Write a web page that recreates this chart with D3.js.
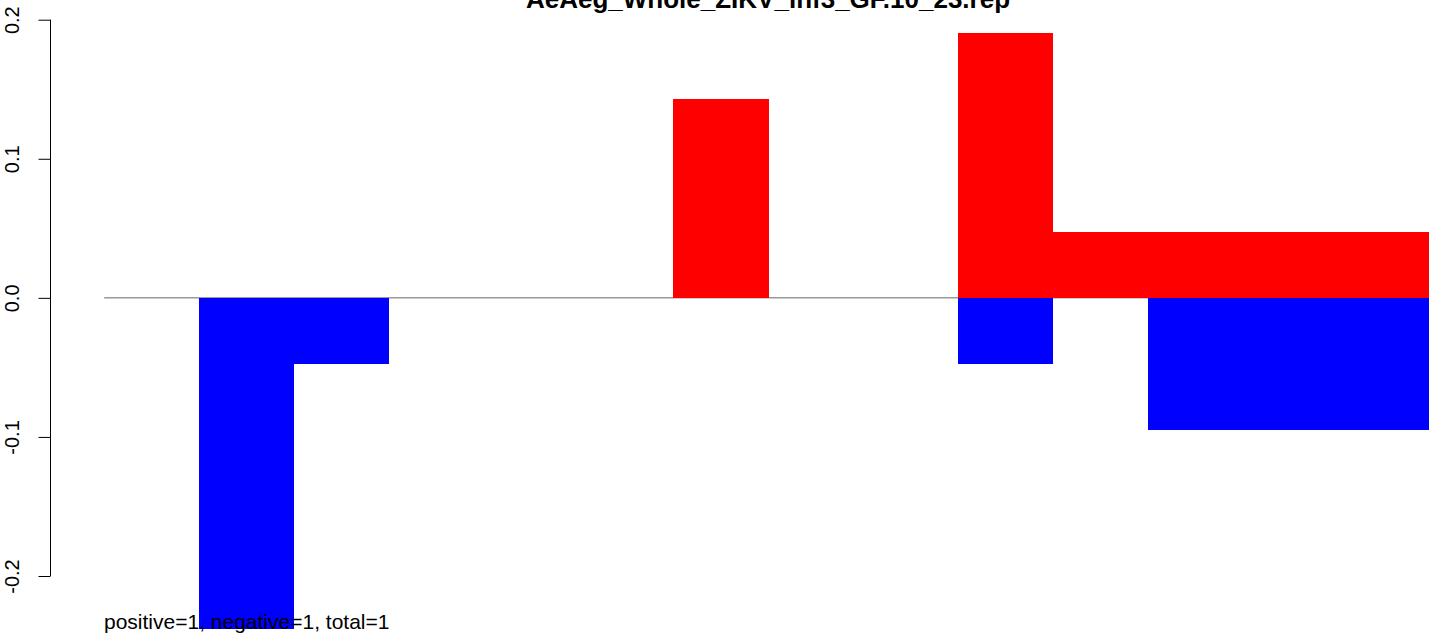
<!DOCTYPE html>
<html>
<head>
<meta charset="utf-8">
<script src="https://cdn.jsdelivr.net/npm/d3@7"></script>
<style>
  html, body { margin: 0; padding: 0; background: #fff; overflow: hidden; }
  svg { display: block; }
</style>
</head>
<body>
<svg id="chart" width="1429" height="636"></svg>
<script>
// ---- data ----
const titleText = "AeAeg_Whole_ZIKV_inf3_GF.10_23.rep";
const categories = [0, 1, 2, 3, 4, 5, 6, 7, 8, 9, 10, 11, 12, 13];
const positiveValues = [0, 0, 0, 0, 0, 0, 0.1429, 0, 0, 0.1905, 0.0476, 0.0476, 0.0476, 0.0476];
const negativeValues = [0, -0.2381, -0.0476, 0, 0, 0, 0, 0, 0, -0.0476, 0, -0.0952, -0.0952, -0.0952];
const yTicks = [-0.2, -0.1, 0.0, 0.1, 0.2];
const yTickLabels = ["-0.2", "-0.1", "0.0", "0.1", "0.2"];
const footnote = "positive=1, negative=1, total=1";

// ---- layout ----
const W = 1429, H = 636;
const FONT = "'Liberation Sans', Arial, Helvetica, sans-serif";
const svg = d3.select("#chart");
const slotW = 94.85, xStart = 104.2;

const x = d3.scaleBand()
  .domain(categories)
  .range([xStart, xStart + categories.length * slotW])
  .padding(0);

const y = d3.scaleLinear().domain([-0.2, 0.2]).range([576, 19.7]);

// zero line
svg.append("line")
  .attr("x1", xStart).attr("x2", W)
  .attr("y1", y(0)).attr("y2", y(0))
  .attr("stroke", "#666").attr("stroke-width", 1);

// bars
const plot = svg.append("g").attr("shape-rendering", "crispEdges");
plot.selectAll("rect.pos")
  .data(categories.filter(i => positiveValues[i] !== 0))
  .join("rect")
  .attr("class", "pos")
  .attr("x", i => x(i))
  .attr("width", x.bandwidth() + 0.5)
  .attr("y", i => y(positiveValues[i]))
  .attr("height", i => y(0) - y(positiveValues[i]))
  .attr("fill", "#ff0000");

plot.selectAll("rect.neg")
  .data(categories.filter(i => negativeValues[i] !== 0))
  .join("rect")
  .attr("class", "neg")
  .attr("x", i => x(i))
  .attr("width", x.bandwidth() + 0.5)
  .attr("y", y(0))
  .attr("height", i => y(negativeValues[i]) - y(0))
  .attr("fill", "#0000ff");

// y axis (R style)
const yAxis = d3.axisLeft(y)
  .tickValues(yTicks)
  .tickFormat((d, i) => yTickLabels[i])
  .tickSize(12)
  .tickPadding(0);

const ax = svg.append("g")
  .attr("transform", "translate(50,0)")
  .call(yAxis);
ax.select(".domain")
  .attr("d", `M0.5,${y(-0.2)}V${y(0.2)}`)
  .attr("stroke", "#000");
ax.selectAll(".tick line").attr("stroke", "#000").attr("transform", "translate(0.5,0)");
ax.selectAll(".tick text")
  .attr("font-family", FONT)
  .attr("font-size", 20)
  .attr("fill", "#000")
  .attr("text-anchor", "middle")
  .attr("x", 0)
  .attr("y", 0)
  .attr("dy", null)
  .attr("transform", "translate(-31,0) rotate(-90)");

// title
svg.append("text")
  .attr("x", 768)
  .attr("y", 7.5)
  .attr("text-anchor", "middle")
  .attr("font-family", FONT)
  .attr("font-weight", "bold")
  .attr("font-size", 26)
  .attr("fill", "#000")
  .text(titleText);

// footnote
svg.append("text")
  .attr("x", 104)
  .attr("y", 629)
  .attr("font-family", FONT)
  .attr("font-size", 21)
  .attr("fill", "#000")
  .text(footnote);
</script>
</body>
</html>
